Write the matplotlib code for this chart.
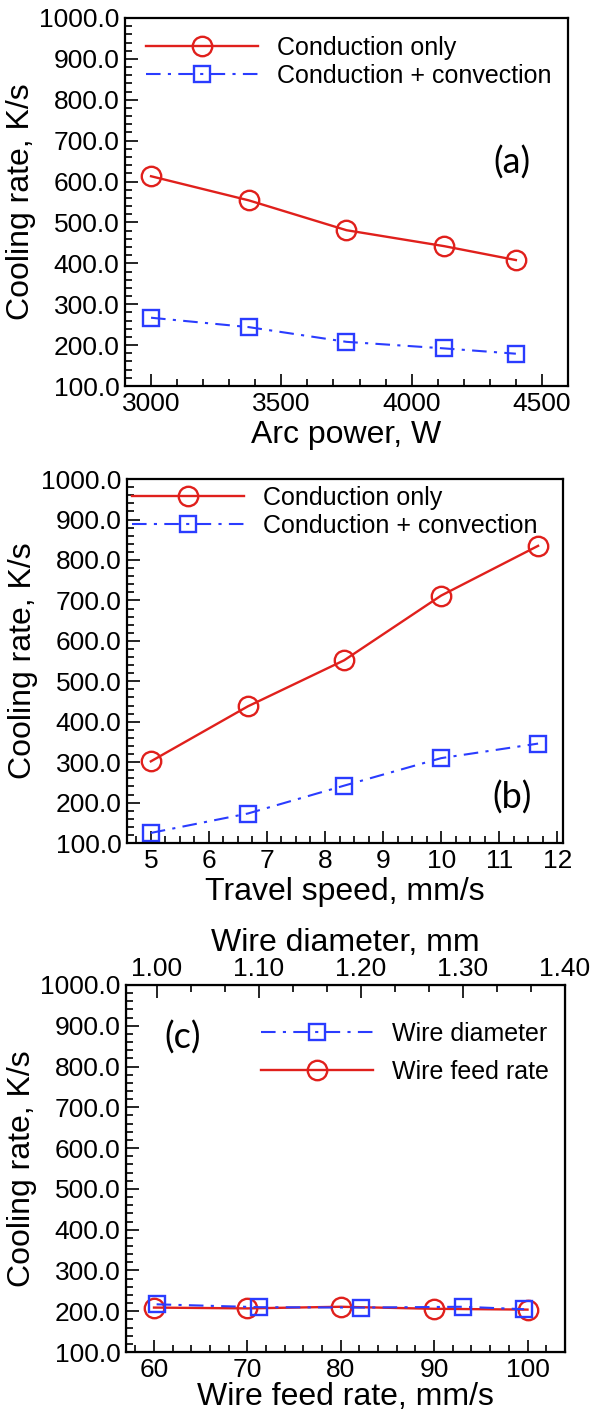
import matplotlib
matplotlib.use('Agg')
import matplotlib.pyplot as plt
from matplotlib.ticker import MultipleLocator, FormatStrFormatter

plt.rcParams['font.family'] = ['Liberation Sans', 'DejaVu Sans']

# (a) arc power
arc_power = [3000, 3375, 3750, 4125, 4400]
a_cond = [613, 554, 481, 442, 408]
a_conv = [267, 244, 208, 192, 179]

# (b) travel speed
travel_speed = [5.0, 6.67, 8.33, 10.0, 11.67]
b_cond = [302, 438, 552, 712, 835]
b_conv = [125, 173, 242, 310, 346]

# (c) wire feed rate / wire diameter
feed_rate = [60, 70, 80, 90, 100]
c_feed = [209, 207, 211, 206, 204]
wire_dia = [1.00, 1.10, 1.20, 1.30, 1.36]
c_dia = [217, 210, 209, 211, 205]

RED = '#e0201c'
BLUE = '#2a3cff'
DASHDOT = (0, (7, 3.5, 1.5, 3.5))

TICK_FS = 19
LABEL_FS = 23
LEG_FS = 18
TAG_FS = 26

red_kw = dict(color=RED, lw=1.7, marker='o', ms=14, mfc='none', mec=RED, mew=1.7)
blue_kw = dict(color=BLUE, lw=1.5, ls=DASHDOT, marker='s', ms=11, mfc='none', mec=BLUE, mew=1.7)


def style_y(ax):
    ax.set_ylim(100, 1000)
    ax.yaxis.set_major_locator(MultipleLocator(100))
    ax.yaxis.set_minor_locator(MultipleLocator(20))
    ax.yaxis.set_major_formatter(FormatStrFormatter('%.1f'))
    ax.tick_params(which='both', direction='in', left=True, right=False, top=False,
                   bottom=True, labelsize=TICK_FS, width=1.2, pad=4)
    ax.tick_params(which='major', length=9)
    ax.tick_params(which='minor', length=5)
    for s in ax.spines.values():
        s.set_linewidth(1.6)
    ax.set_ylabel('Cooling rate, K/s', fontsize=LABEL_FS, labelpad=2)


fig = plt.figure(figsize=(6.02, 14.15), dpi=100)

# ---- (a)
ax = fig.add_axes([0.2076, 0.7272, 0.7359, 0.2601])
ax.plot(arc_power, a_cond, label='Conduction only', **red_kw)
ax.plot(arc_power, a_conv, label='Conduction + convection', **blue_kw)
ax.set_xlim(2900, 4600)
ax.xaxis.set_major_locator(MultipleLocator(500))
ax.xaxis.set_minor_locator(MultipleLocator(100))
style_y(ax)
ax.set_xlabel('Arc power, W', fontsize=LABEL_FS, labelpad=3)
ax.legend(loc='upper left', bbox_to_anchor=(0.047, 0.951), frameon=False, fontsize=LEG_FS,
          handlelength=4.5, handletextpad=0.76, borderpad=0, borderaxespad=0,
          labelspacing=0.15, numpoints=1)
ax.text(0.874, 0.606, '(a)', transform=ax.transAxes, fontsize=TAG_FS,
        family=['Lato', 'DejaVu Sans'], ha='center', va='center')

# ---- (b)
ax = fig.add_axes([0.211, 0.4042, 0.7243, 0.2572])
ax.plot(travel_speed, b_cond, label='Conduction only', **red_kw)
ax.plot(travel_speed, b_conv, label='Conduction + convection', **blue_kw)
ax.set_xlim(4.59, 12.1)
ax.xaxis.set_major_locator(MultipleLocator(1))
ax.xaxis.set_minor_locator(MultipleLocator(0.25))
style_y(ax)
ax.set_xlabel('Travel speed, mm/s', fontsize=LABEL_FS, labelpad=3)
ax.legend(loc='upper left', bbox_to_anchor=(0.011, 0.981), frameon=False, fontsize=LEG_FS,
          handlelength=4.5, handletextpad=0.76, borderpad=0, borderaxespad=0,
          labelspacing=0.15, numpoints=1)
ax.text(0.883, 0.126, '(b)', transform=ax.transAxes, fontsize=TAG_FS,
        family=['Lato', 'DejaVu Sans'], ha='center', va='center')

# ---- (c)
ax = fig.add_axes([0.2093, 0.0445, 0.729, 0.2594])
ax2 = ax.twiny()
l_feed, = ax.plot(feed_rate, c_feed, label='Wire feed rate', zorder=3, **red_kw)
l_dia, = ax2.plot(wire_dia, c_dia, label='Wire diameter', zorder=2, **blue_kw)
ax.set_xlim(57, 104)
ax.xaxis.set_major_locator(MultipleLocator(10))
ax.xaxis.set_minor_locator(MultipleLocator(2))
style_y(ax)
ax.set_xlabel('Wire feed rate, mm/s', fontsize=LABEL_FS, labelpad=0)
ax2.set_xlim(0.97, 1.40)
ax2.xaxis.set_major_locator(MultipleLocator(0.1))
ax2.xaxis.set_minor_locator(MultipleLocator(0.1 / 3))
ax2.xaxis.set_major_formatter(FormatStrFormatter('%.2f'))
ax2.tick_params(which='both', direction='in', top=True, bottom=False, labelsize=TICK_FS,
                width=1.2, pad=3)
ax2.tick_params(which='major', length=9)
ax2.tick_params(which='minor', length=5)
ax2.set_xlabel('Wire diameter, mm', fontsize=LABEL_FS, labelpad=4)
ax.legend([l_dia, l_feed], ['Wire diameter', 'Wire feed rate'], loc='upper left',
          bbox_to_anchor=(0.307, 0.899), frameon=False, fontsize=LEG_FS,
          handlelength=4.5, handletextpad=0.76, borderpad=0, borderaxespad=0,
          labelspacing=0.55, numpoints=1)
ax.text(0.13, 0.856, '(c)', transform=ax.transAxes, fontsize=TAG_FS,
        family=['Lato', 'DejaVu Sans'], ha='center', va='center')

fig.savefig('out.png', dpi=100)
